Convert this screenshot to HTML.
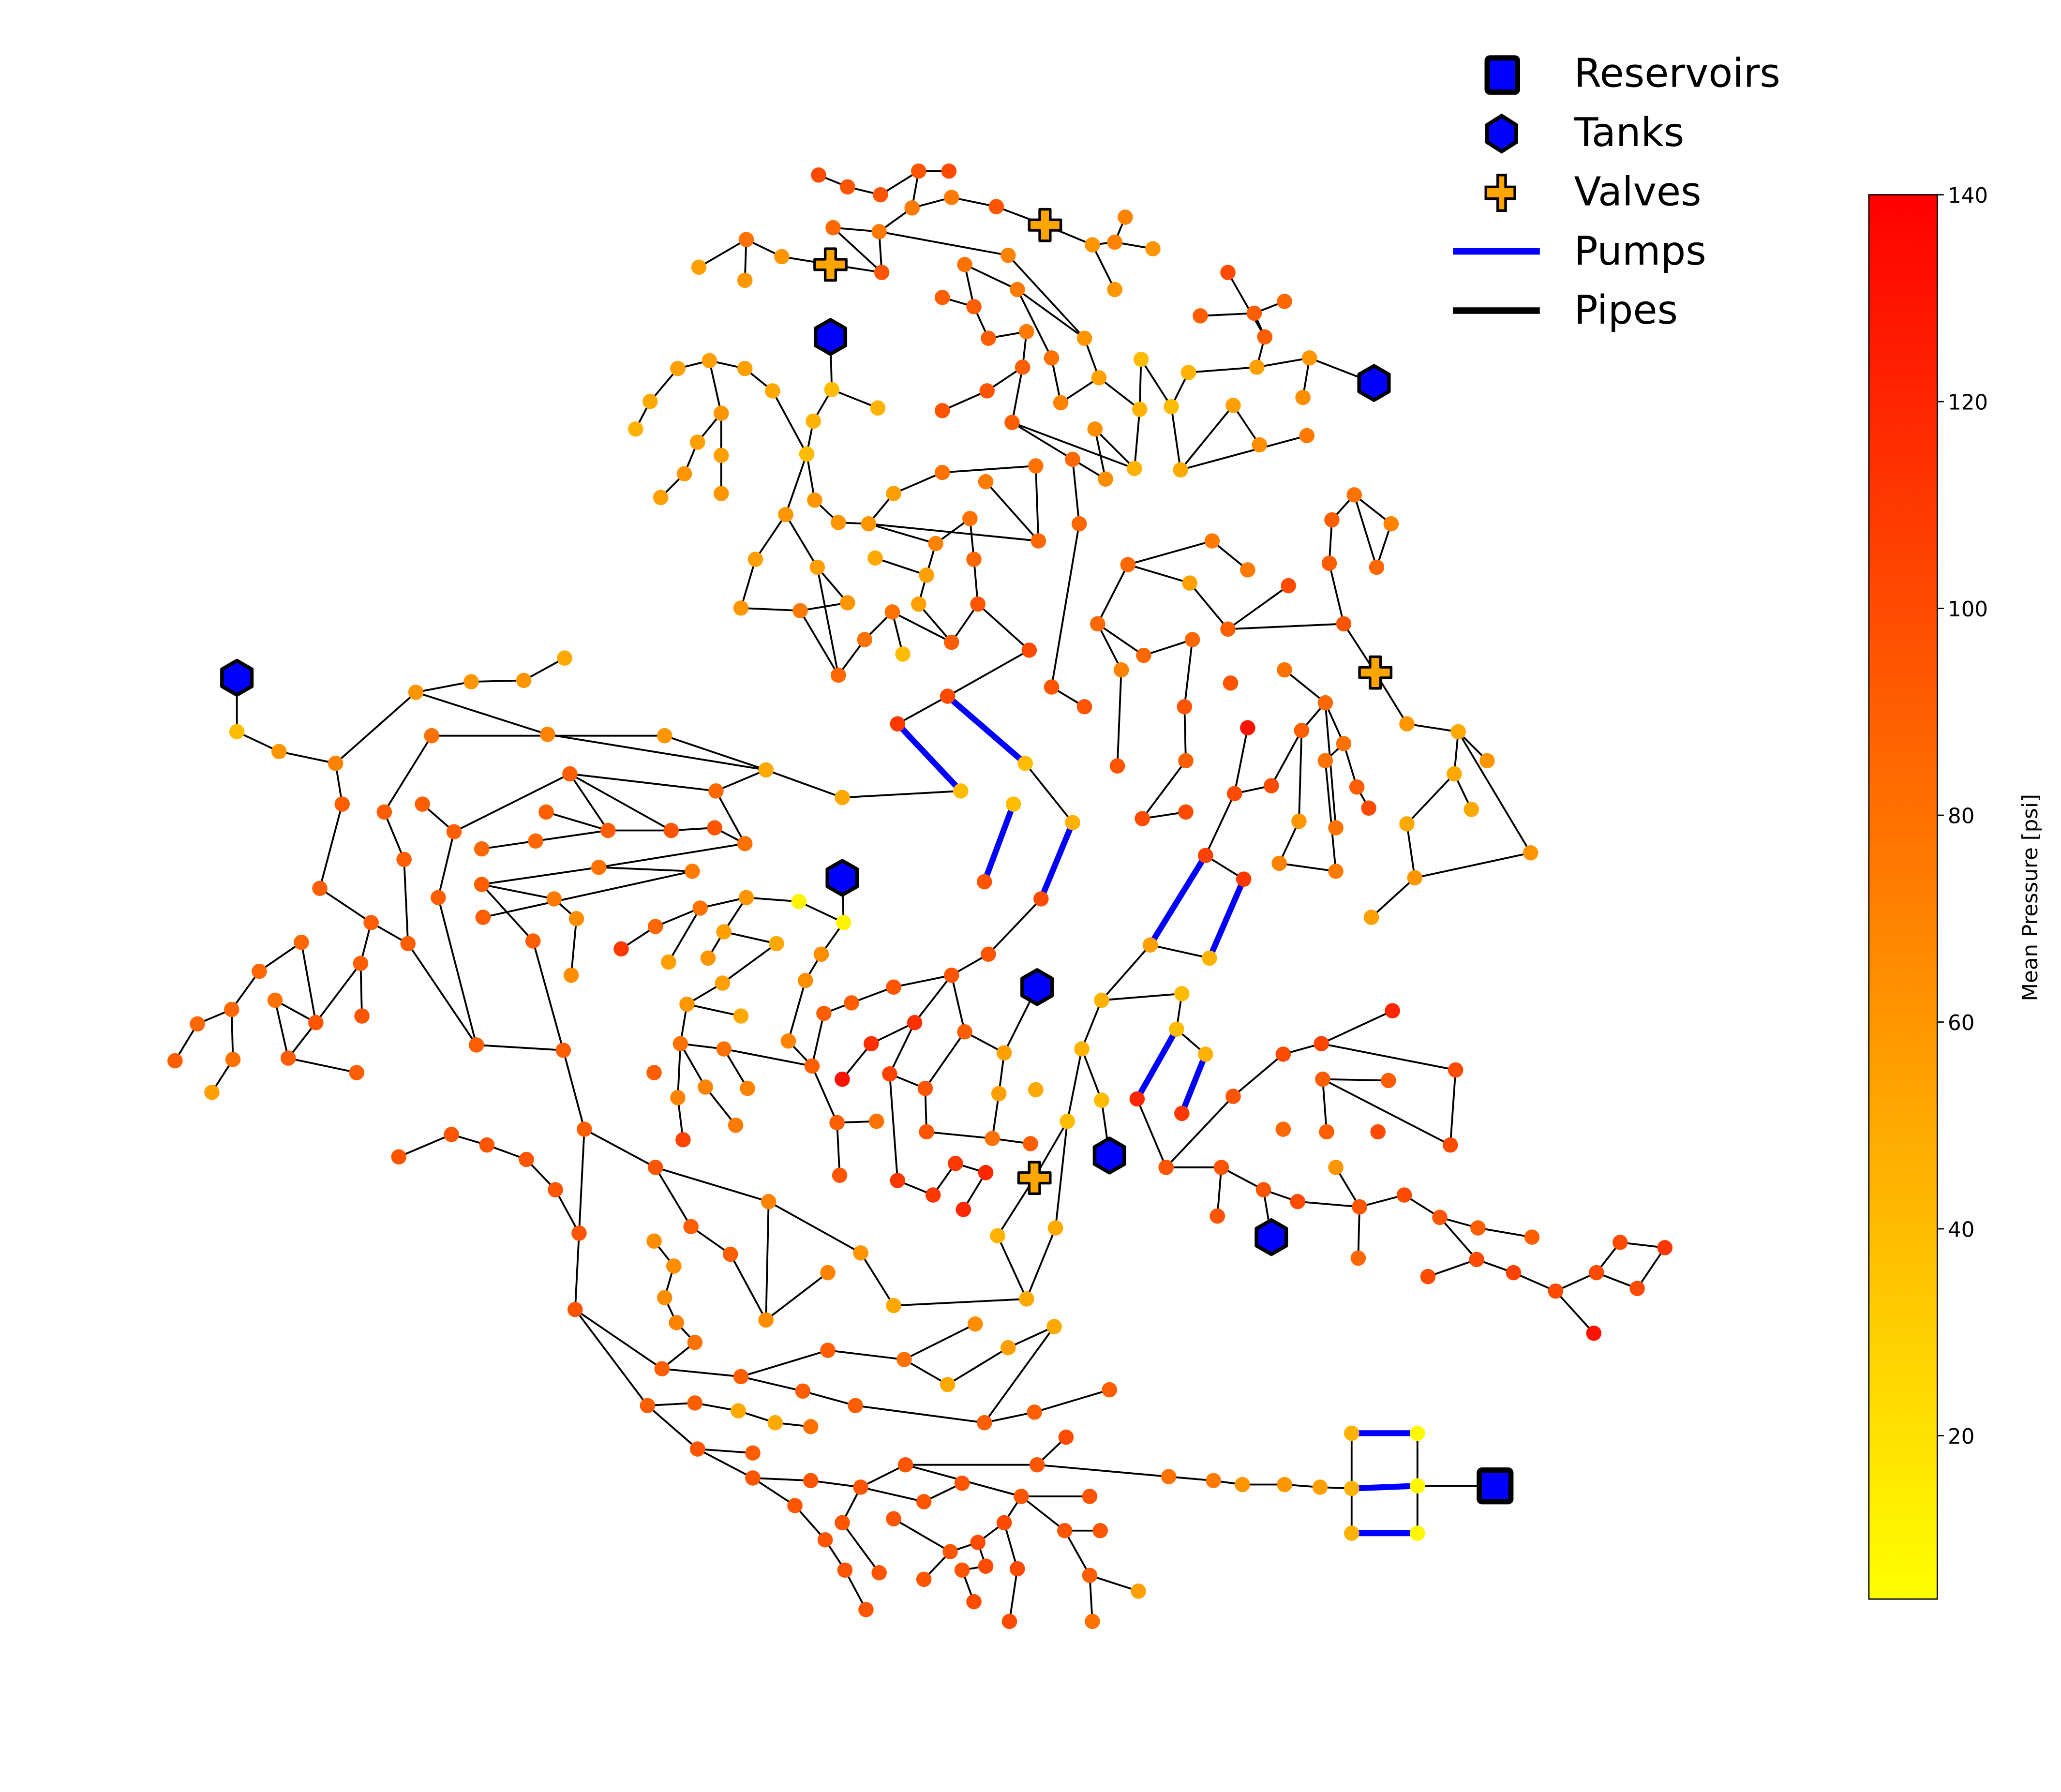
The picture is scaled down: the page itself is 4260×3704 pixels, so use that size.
<!DOCTYPE html>
<html><head><meta charset="utf-8">
<style>
html,body{margin:0;padding:0;background:#fff;}
svg{display:block;}
text{font-family:"DejaVu Sans","Liberation Sans",sans-serif;}
</style></head>
<body>
<svg id="chart" width="4260" height="3704" viewBox="0 0 1566 1361.6" xmlns="http://www.w3.org/2000/svg">
<defs>
<linearGradient id="cmap" x1="0" y1="1" x2="0" y2="0">
<stop offset="0" stop-color="#ffff00"/><stop offset="1" stop-color="#ff0000"/>
</linearGradient>
</defs>
<g id="pipes"></g>
<g id="pumps"></g>
<g id="junctions"></g>
<g id="specials"></g>
<g id="legend">
  <rect x="1130" y="44" width="23" height="26" rx="2" fill="#0000ff" stroke="#000" stroke-width="4"/>
  <text x="1196" y="66" font-size="30">Reservoirs</text>
  <polygon points="1141,88 1152,95 1152,108 1141,115 1130,108 1130,95" fill="#0000ff" stroke="#000" stroke-width="3"/>
  <text x="1196" y="111" font-size="30">Tanks</text>
  <polygon points="1138,133 1144,133 1144,142 1151,142 1151,151 1144,151 1144,160 1138,160 1138,151 1129,151 1129,142 1138,142" fill="#ffa500" stroke="#000" stroke-width="2"/>
  <text x="1196" y="156" font-size="30">Valves</text>
  <line x1="1104" y1="191" x2="1170" y2="191" stroke="#0000ff" stroke-width="5"/>
  <text x="1196" y="201" font-size="30">Pumps</text>
  <line x1="1104" y1="236" x2="1170" y2="236" stroke="#000" stroke-width="5"/>
  <text x="1196" y="246" font-size="30">Pipes</text>
</g>
<g id="colorbar">
  <rect x="1420" y="148" width="52" height="1067" fill="url(#cmap)" stroke="#000" stroke-width="1"/>
  <text transform="translate(1548,682) rotate(-90)" text-anchor="middle" font-size="16">Mean Pressure [psi]</text>
</g>
</svg>
<script>
const pMin = 4.2, pMax = 140;
const cbTicks = [20, 40, 60, 80, 100, 120, 140];
const junctions = [
["a1",622,133,100],["a2",644,142,95],["a3",669,148,95],["a4",698,130,95],["a5",721,130,100],["a6",693,158,75],["a7",723,150,75],["a8",757,157,95],["a9",668,176,75],["a10",633,173,85],["a11",670,207,95],["a12",766,194,70],["a13",830,186,60],["a14",847,184,70],["a15",855,165,70],["a16",876,189,60],["a17",847,220,60],
["b1",531,203,55],["b2",567,182,80],["b3",566,213,60],["b4",594,195,60],["b5",632,296,40],["b6",667,310,45],["b7",618,320,45],["b8",613,345,40],["b9",515,280,55],["b10",539,274,55],["b11",566,280,55],["b12",587,297,50],["b13",494,305,50],["b14",483,326,45],["b15",548,314,60],["b16",530,336,55],["b17",520,360,60],["b18",502,378,55],["b19",548,346,55],["b20",548,375,60],
["b21",619,380,60],["b22",637,397,60],["b23",660,398,60],["b24",679,375,55],["b25",716,359,80],["b26",749,366,75],["b27",787,354,80],["b28",789,411,85],["b29",711,413,70],["b30",737,394,80],["b31",740,425,85],["b32",743,459,95],["b33",723,488,90],["b34",782,494,100],["b35",720,529,100],["b36",704,437,55],["b37",665,424,50],["b38",698,459,55],["b39",678,465,80],["b40",686,497,40],["b41",657,486,80],["b42",637,513,85],["b43",597,391,60],["b44",574,425,55],["b45",621,431,55],["b46",563,462,60],["b47",608,464,75],["b48",644,458,60],
["c1",716,312,95],["c2",750,297,95],["c3",777,279,90],["c4",769,321,90],["c5",815,349,85],["c6",820,398,85],["c7",806,306,70],["c8",799,272,80],["c9",780,252,75],["c10",751,257,90],["c11",740,233,90],["c12",733,201,80],["c13",773,220,75],["c14",716,226,90],["c15",824,257,60],["c16",835,287,55],["c17",866,311,45],["c18",867,273,40],["c19",862,356,45],["c20",840,364,65],["c21",832,326,65],["c22",890,309,40],["c23",903,283,45],["c24",955,279,55],["c25",995,272,60],["c26",990,302,65],["c27",897,357,50],["c28",937,308,55],["c29",957,338,65],["c30",993,331,75],["c31",961,256,90],["c32",912,240,90],["c33",953,238,90],["c34",976,229,85],["c35",933,207,100],
["d1",857,429,85],["d2",921,411,75],["d3",948,433,75],["d4",904,443,55],["d5",933,478,90],["d6",979,445,100],["d7",1021,474,95],["d8",1010,428,90],["d9",1012,395,90],["d10",1029,376,80],["d11",1046,431,85],["d12",1057,398,70],["d13",1069,550,60],["d14",1108,556,50],["d15",1130,578,60],["d16",1105,588,50],["d17",1118,615,50],["d18",1069,626,50],["d19",1163,648,60],["d20",1075,667,60],["d21",1042,697,55],
["d22",834,474,85],["d23",869,498,85],["d24",906,486,85],["d25",852,509,70],["d26",900,537,95],["d27",935,519,95],["d28",849,582,95],["d29",799,522,95],["d30",824,537,95],
["e1",976,509,80],["e2",1007,534,85],["e3",989,555,90],["e4",1021,565,80],["e5",1007,578,80],["e6",1015,629,80],["e7",987,624,60],["e8",972,656,70],["e9",1031,598,90],["e10",1040,614,100],["e11",1015,662,75],["e12",948,553,130],["e13",938,603,100],["e14",966,597,100],["e15",901,578,90],["e16",868,622,100],["e17",901,617,100],["e18",916,650,105],["e19",945,668,110],["e20",874,718,55],["e21",919,728,45],
["g1",682,550,110],["g3",779,580,40],["g4",730,601,40],["g5",770,611,40],["g6",815,625,45],["g7",748,670,95],["g8",791,683,100],["g9",640,606,50],["g10",751,725,95],
["h1",316,526,60],["h2",358,518,60],["h3",398,517,60],["h4",429,500,50],["h5",180,556,40],["h6",212,571,60],["h7",255,580,70],["h8",260,611,90],["h9",243,675,90],["h10",282,701,90],["h11",310,717,90],["h12",274,732,90],["h13",275,772,95],["h14",362,794,90],["h15",428,798,90],["h16",328,559,80],["h17",416,558,70],["h18",505,559,60],["h19",582,585,50],["h20",292,617,90],["h21",307,653,90],["h22",321,611,90],["h23",345,632,90],["h24",333,682,90],["h25",433,588,90],["h26",544,601,85],["h27",566,641,80],["h28",415,617,90],["h29",462,631,90],["h30",510,631,95],["h31",543,629,95],["h32",366,645,85],["h33",407,639,85],["h34",366,672,90],["h35",455,659,80],["h36",526,662,75],["h37",367,697,90],["h38",421,683,75],["h39",405,715,90],["h40",434,741,65],["h41",438,698,65],
["k1",229,716,85],["k2",197,738,85],["k3",176,767,85],["k4",150,778,85],["k5",133,806,90],["k6",177,805,80],["k7",161,830,55],["k8",209,760,80],["k9",240,777,95],["k10",219,804,90],["k11",271,815,90],
["m1",472,721,110],["m2",498,704,85],["m3",532,690,80],["m4",567,682,60],["m5",607,685,10],["m6",641,701,10],["m7",508,731,55],["m8",550,708,55],["m9",538,728,60],["m10",549,747,55],["m11",590,717,50],["m12",624,725,65],["m13",612,745,65],["m14",522,763,60],["m15",563,772,50],["m16",599,791,70],["m17",517,793,80],["m18",497,815,90],["m19",515,834,70],["m20",519,866,105],["m21",550,797,80],["m22",536,826,70],["m23",568,827,70],["m24",559,855,75],["m25",617,810,90],["m26",626,770,90],["m27",647,762,90],["m28",679,750,95],["m29",723,741,95],["m30",640,820,130],["m31",662,793,115],["m32",695,777,115],["m33",676,816,105],["m34",703,827,95],["m35",733,784,90],["m36",763,800,55],["m37",759,831,55],["m38",787,828,50],["m39",704,860,95],["m40",754,865,80],["m41",783,869,90],["m42",636,853,90],["m43",666,852,80],["m44",638,893,95],["m45",682,897,110],["m46",709,908,110],["m47",726,884,110],["m48",749,891,120],["m49",732,919,120],["m50",758,939,45],["m51",802,933,50],["m52",780,987,50],
["n1",837,760,45],["n2",898,755,40],["n3",894,782,40],["n4",916,801,45],["n5",864,835,120],["n6",898,846,110],["n7",822,797,45],["n8",837,836,40],["n9",811,852,40],["n10",886,887,95],["n11",937,833,95],["n12",975,801,100],["n13",1004,793,105],["n14",1058,768,120],["n15",1106,813,100],["n16",1102,870,100],["n17",1005,820,90],["n18",1055,821,90],["n19",975,858,85],["n20",1008,860,90],["n21",1047,860,100],["n22",928,887,95],["n23",960,904,95],["n24",925,924,95],["n25",986,913,100],["n26",1015,887,60],["n27",1033,917,95],["n28",1032,956,85],["n29",1067,908,100],["n30",1094,925,95],["n31",1123,933,90],["n32",1164,940,90],["n33",1122,957,100],["n34",1085,970,100],["n35",1150,967,105],["n36",1182,981,100],["n37",1213,967,100],["n38",1231,944,100],["n39",1265,948,110],["n40",1244,979,100],["n41",1211,1013,130],
["i1",444,858,90],["i2",440,937,95],["i3",437,995,95],["i4",422,904,95],["i5",400,881,95],["i6",370,870,95],["i7",343,862,95],["i8",303,879,95],["i9",498,887,95],["i10",584,913,70],["i11",525,932,90],["i12",555,953,90],["i13",654,952,60],["i14",629,967,70],["i15",582,1003,65],["i16",679,992,50],["i17",497,943,65],["i18",512,962,65],["i19",505,986,65],["i20",514,1005,70],["i21",528,1020,80],["i22",503,1040,90],["i23",563,1046,90],["i24",629,1026,90],["i25",687,1033,80],["i26",741,1006,65],["i27",720,1052,50],["i28",766,1024,55],["i29",801,1008,50],["i30",610,1057,90],["i31",650,1068,90],["i32",748,1081,90],["i33",786,1073,90],["i34",843,1056,90],["i35",492,1068,90],["i36",528,1066,90],["i37",561,1072,50],["i38",589,1081,50],["i39",616,1084,80],["i40",530,1101,95],["i41",572,1104,90],
["j1",572,1123,95],["j2",616,1125,95],["j3",654,1130,95],["j4",688,1113,95],["j5",788,1113,95],["j6",810,1092,100],["j7",888,1122,80],["j8",922,1125,75],["j9",944,1128,60],["j10",976,1128,60],["j11",1003,1130,55],["j12",604,1144,95],["j13",627,1170,95],["j14",642,1193,95],["j15",658,1223,95],["j16",640,1157,95],["j17",668,1195,95],["j18",702,1141,95],["j19",731,1127,95],["j20",776,1137,95],["j21",828,1137,95],["j22",763,1157,100],["j23",809,1163,95],["j24",836,1163,95],["j25",679,1154,95],["j26",702,1200,95],["j27",722,1179,95],["j28",743,1172,100],["j29",749,1190,100],["j30",731,1193,95],["j31",740,1217,100],["j32",773,1192,100],["j33",767,1232,100],["j34",828,1197,90],["j35",865,1209,55],["j36",830,1232,80],
["r1",1027,1089,45],["r2",1027,1131,45],["r3",1027,1165,45],["r4",1077,1089,8],["r5",1077,1129,8],["r6",1077,1165,8]
];
const tanks = [["T1",631,256],["T2",1044,291],["T3",180,515],["T4",640,667],["T5",788,750],["T6",843,878],["T7",966,940]];
const reservoirs = [["R1",1136,1129]];
const valves = [["V1",794,171],["V2",631,201],["V3",1045,511],["V4",786,895]];
const pipes = ("a1-a2 a2-a3 a3-a4 a4-a5 a4-a6 a6-a9 a9-a10 a9-a11 a10-a11 a9-a12 a12-c15 a6-a7 a7-a8 a8-V1 V1-a13 a13-a14 a14-a15 a14-a16 a13-a17 " +
"b2-b1 b2-b3 b2-b4 b4-V2 V2-a11 T1-b5 b5-b6 b5-b7 b7-b8 b9-b10 b10-b11 b11-b12 b12-b8 b9-b13 b13-b14 b10-b15 b15-b16 b16-b17 b17-b18 b15-b19 b19-b20 " +
"b8-b21 b21-b22 b22-b23 b23-b24 b24-b25 b25-b27 b26-b28 b27-b28 b23-b28 b23-b29 b29-b30 b30-b31 b31-b32 b32-b33 b32-b34 b34-b35 b29-b36 b36-b37 b36-b38 b38-b33 b39-b40 b39-b41 b39-b33 b41-b42 b8-b43 b43-b44 b43-b45 b44-b46 b46-b47 b47-b48 b45-b48 b45-b42 b42-b47 " +
"c1-c2 c2-c3 c3-c4 c4-c5 c5-c6 c3-c9 c9-c10 c10-c11 c11-c12 c12-c13 c13-c8 c8-c7 c7-c16 c16-c15 c15-c13 c14-c11 c16-c17 c17-c18 c18-c22 c22-c23 c23-c24 c24-c25 c25-T2 c25-c26 c4-c19 c19-c17 c19-c21 c21-c20 c20-c5 c22-c27 c27-c28 c28-c29 c27-c30 c24-c31 c31-c33 c33-c32 c33-c34 c31-c35 c6-d29 " +
"d1-d2 d2-d3 d1-d4 d4-d5 d5-d6 d5-d7 d7-d8 d8-d9 d9-d10 d10-d12 d12-d11 d10-d11 d7-V3 V3-d13 d13-d14 d14-d16 d14-d19 d15-d14 d16-d17 d16-d18 d18-d20 d20-d19 d20-d21 d1-d22 d22-d23 d23-d24 d24-d26 d22-d25 d25-d28 d29-d30 " +
"e1-e2 e2-e3 e2-e4 e2-e6 e4-e9 e9-e10 e3-e7 e7-e8 e8-e11 e5-e11 e4-e5 e12-e13 e13-e14 e14-e3 e16-e17 e17-e26 e15-d26 e13-e18 e18-e19 e20-e21 e20-n1 e15-e16 " +
"g1-b35 g3-g6 g9-g4 g8-g10 g10-m29 " +
"T3-h5 h5-h6 h6-h7 h7-h1 h1-h2 h2-h3 h3-h4 h7-h8 h8-h9 h9-h10 h10-h11 h10-h12 h12-h13 h11-h14 h1-h17 h16-h18 h18-h19 h17-h19 h19-g9 h19-h26 h16-h20 h20-h21 h21-h11 h22-h23 h23-h24 h24-h14 h23-h25 h25-h26 h25-h30 h25-h29 h29-h30 h30-h31 h31-h27 h26-h27 h32-h33 h33-h29 h27-h35 h34-h35 h35-h36 h34-h38 h38-h41 h41-h40 h37-h36 h34-h39 h39-h15 h14-h15 h15-i1 h29-h28 " +
"k2-k1 k2-k3 k3-k4 k4-k5 k3-k6 k6-k7 k8-k10 k10-k11 k8-k9 k9-k1 k9-h12 k10-k9 " +
"m1-m2 m2-m3 m3-m4 m4-m5 m5-m6 T4-m6 m3-m7 m4-m8 m8-m9 m6-m12 m12-m13 m13-m16 m11-m10 m8-m11 m10-m14 m14-m17 m17-m19 m19-m20 m17-m21 m21-m25 m17-m22 m22-m24 m21-m23 m16-m25 m25-m26 m26-m27 m27-m28 m28-m29 m25-m42 m42-m44 m42-m43 m30-m31 m31-m32 m32-m29 m32-m33 m33-m45 m33-m34 m34-m39 m29-m35 m35-m36 m35-m34 T5-m36 m36-m37 m37-m40 m39-m40 m40-m41 m45-m46 m46-m47 m47-m48 m49-m48 V4-m50 V4-n9 m50-m52 m52-m51 m51-n9 m14-m15 " +
"n1-n2 n2-n3 n3-n4 n4-n6 n1-n7 n7-n8 n8-T6 n7-n9 n5-n10 n10-n11 n11-n12 n12-n13 n13-n14 n13-n15 n15-n16 n17-n16 n17-n18 n17-n20 n10-n22 n22-n23 n23-T7 n22-n24 n23-n25 n25-n27 n26-n27 n27-n28 n27-n29 n29-n30 n30-n31 n31-n32 n30-n33 n33-n35 n35-n36 n36-n37 n37-n38 n38-n39 n39-n40 n40-n37 n36-n41 n33-n34 " +
"i1-i2 i2-i3 i2-i4 i4-i5 i5-i6 i6-i7 i7-i8 i1-i9 i9-i10 i10-i15 i10-i13 i9-i11 i11-i12 i12-i15 i15-i14 i13-i16 i16-m52 i17-i18 i18-i19 i19-i20 i20-i21 i21-i22 i3-i22 i22-i23 i23-i24 i24-i25 i25-i26 i25-i27 i27-i28 i28-i29 i23-i30 i30-i31 i31-i32 i32-i33 i33-i34 i32-i29 i3-i35 i35-i36 i36-i37 i37-i38 i38-i39 i35-i40 i40-i41 i40-j1 " +
"j1-j2 j2-j3 j3-j4 j4-j5 j5-j6 j5-j7 j7-j8 j8-j9 j9-j10 j10-j11 j11-r2 j1-j12 j12-j13 j13-j14 j14-j15 j3-j16 j16-j17 j3-j18 j18-j19 j4-j20 j20-j21 j20-j22 j20-j23 j23-j24 j23-j34 j22-j28 j28-j27 j25-j27 j27-j26 j28-j29 j29-j30 j22-j32 j32-j33 j30-j31 j34-j35 j34-j36 " +
"r1-r2 r2-r3 r4-r5 r5-r6 r5-R1").split(" ");
const pumps = ["b35-g3","g1-g4","g5-g7","g6-g8","e18-e20","e19-e21","n3-n5","n4-n6","r1-r4","r2-r5","r3-r6"];

const NS = "http://www.w3.org/2000/svg";
const pos = {};
junctions.forEach(j => { pos[j[0]] = [j[1], j[2]]; });
tanks.forEach(t => { pos[t[0]] = [t[1], t[2]]; });
reservoirs.forEach(r => { pos[r[0]] = [r[1], r[2]]; });
valves.forEach(v => { pos[v[0]] = [v[1], v[2]]; });

function color(p) {
  let t = (p - pMin) / (pMax - pMin);
  t = Math.max(0, Math.min(1, t));
  return "rgb(255," + Math.round(255 * (1 - t)) + ",0)";
}
const cbY0 = 1215, cbY1 = 148;
function cbScale(v) { return cbY0 - (v - pMin) / (pMax - pMin) * (cbY0 - cbY1); }

function mk(tag, attrs, parent) {
  const el = document.createElementNS(NS, tag);
  for (const k in attrs) el.setAttribute(k, attrs[k]);
  parent.appendChild(el);
  return el;
}
const gP = document.getElementById("pipes");
pipes.forEach(s => {
  const [a, b] = s.split("-");
  if (!pos[a] || !pos[b]) return;
  const el = mk("line", {x1: pos[a][0], y1: pos[a][1], x2: pos[b][0], y2: pos[b][1], stroke: "#000", "stroke-width": 1.4}, gP);
  
  
});
const gU = document.getElementById("pumps");
pumps.forEach(s => {
  const [a, b] = s.split("-");
  if (!pos[a] || !pos[b]) return;
  const el = mk("line", {x1: pos[a][0], y1: pos[a][1], x2: pos[b][0], y2: pos[b][1], stroke: "#0000ff", "stroke-width": 4.5}, gU);
  
  
});
const gJ = document.getElementById("junctions");
junctions.forEach(j => {
  const el = mk("circle", {cx: j[1], cy: j[2], r: 5.8, fill: color(j[3])}, gJ);
  
  
});
const gS = document.getElementById("specials");
tanks.forEach(t => {
  const x = t[1], y = t[2], r = 13;
  const pts = [];
  for (let i = 0; i < 6; i++) { const a = Math.PI / 2 + i * Math.PI / 3; pts.push((x + r * Math.cos(a)).toFixed(1) + "," + (y + r * Math.sin(a)).toFixed(1)); }
  const el = mk("polygon", {points: pts.join(" "), fill: "#0000ff", stroke: "#000", "stroke-width": 2.8, "stroke-linejoin": "round"}, gS);
  
  
});
reservoirs.forEach(r => {
  const el = mk("rect", {x: r[1] - 12, y: r[2] - 12, width: 24, height: 24, rx: 2, fill: "#0000ff", stroke: "#000", "stroke-width": 4}, gS);
  
  
});
valves.forEach(v => {
  const x = v[1], y = v[2], a = 4, b = 12;
  const pts = [[x-a,y-b],[x+a,y-b],[x+a,y-a],[x+b,y-a],[x+b,y+a],[x+a,y+a],[x+a,y+b],[x-a,y+b],[x-a,y+a],[x-b,y+a],[x-b,y-a],[x-a,y-a]].map(p => p.join(",")).join(" ");
  const el = mk("polygon", {points: pts, fill: "#ffa500", stroke: "#000", "stroke-width": 2, "stroke-linejoin": "round"}, gS);
  
  
});
const gC = document.getElementById("colorbar");
cbTicks.forEach(v => {
  const y = cbScale(v);
  const tk = mk("line", {x1: 1472, y1: y, x2: 1477, y2: y, stroke: "#000", "stroke-width": 1}, gC);
  
  
  const tx = mk("text", {x: 1480, y: y + 6, "font-size": 16}, gC);
  tx.textContent = String(v);
  
  
});
</script>
</body></html>
